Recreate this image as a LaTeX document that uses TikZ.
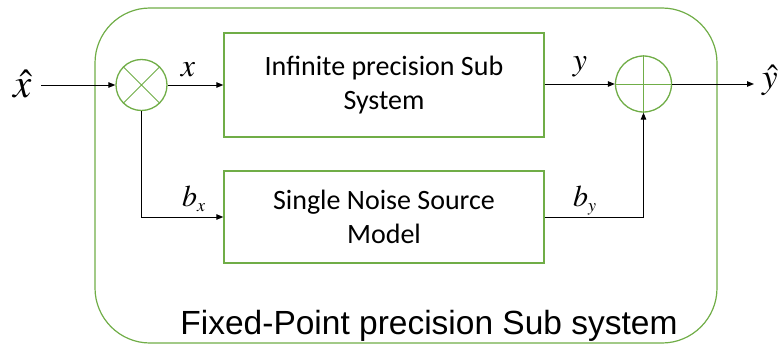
\documentclass[tikz,border=0pt]{standalone}
\usepackage{mathptmx}
\usepackage[no-math]{fontspec}
\setmainfont{Liberation Sans}
\newfontfamily\calib{Carlito}
\usetikzlibrary{arrows.meta}
\definecolor{ogreen}{RGB}{112,173,71}
\tikzset{
  blk/.style={draw=ogreen, line width=1.3pt, minimum width=320pt, minimum height=104pt, inner sep=0pt,
    align=center, font=\calib\fontsize{28}{34}\selectfont},
  opnode/.style={draw=ogreen, line width=1.3pt, circle, inner sep=0pt},
  sig/.style={draw=black, line width=1pt, -{Triangle[length=7pt,width=5.5pt]}},
  wire/.style={draw=black, line width=1pt},
  mlab/.style={inner sep=0pt, font=\fontsize{32}{32}\selectfont},
}
\newcommand{\lowsub}[1]{\raisebox{-5pt}{$\scriptscriptstyle #1$}}
\begin{document}
\begin{tikzpicture}[x=1pt,y=-1pt]
\useasboundingbox (0,0) rectangle (779,345);
% outer container
\node[draw=ogreen, line width=1.2pt, rounded corners=55pt, minimum width=622pt, minimum height=335pt, inner sep=0pt] (outer) at (406,175.5) {};
\node[anchor=base, inner sep=0pt, font=\fontsize{33.5}{33.5}\selectfont] (outerlab) at (429,334) {Fixed-Point precision Sub system};
% blocks
\node[blk] (top) at (384,85) {Infinite precision Sub\\System};
\node[blk, minimum height=92pt] (bot) at (384,217) {Single Noise Source\\Model};
% operators
\node[opnode, minimum size=51pt] (mul) at (141.5,85) {};
\draw[ogreen, line width=1pt] (mul.45) -- (mul.225) (mul.135) -- (mul.315);
\node[opnode, minimum size=56pt] (add) at (643.5,84) {};
\draw[ogreen, line width=1pt] (add.north) -- (add.south) (add.west) -- (add.east);
% coordinates for free ends
\coordinate (in) at (41,85);
\coordinate (out) at (754,84);
% connectors
\draw[sig] (in) -- (mul.west);
\draw[sig] (mul.east) -- (top.west);
\draw[sig] (top.east |- add.west) -- (add.west);
\draw[sig] (add.east) -- (out);
\draw[sig] (mul.south) |- (bot.west);
\draw[sig] (bot.east) -| (add.south);
% labels
\node[mlab, font=\fontsize{41}{41}\selectfont] (xhat) at (23,84) {$\hat{x}$};
\node[mlab] (xl) at (188,70) {$x$};
\node[mlab] (yl) at (580,67) {$y$};
\node[mlab, font=\fontsize{35}{35}\selectfont] (yhat) at (770,80) {$\hat{y}$};
\node[mlab, anchor=base west, font=\fontsize{30}{30}\selectfont] (bx) at (182,206) {$b$\lowsub{x}};
\node[mlab, anchor=base west, font=\fontsize{30}{30}\selectfont] (by) at (573,206) {$b$\lowsub{y}};
\end{tikzpicture}
\end{document}
